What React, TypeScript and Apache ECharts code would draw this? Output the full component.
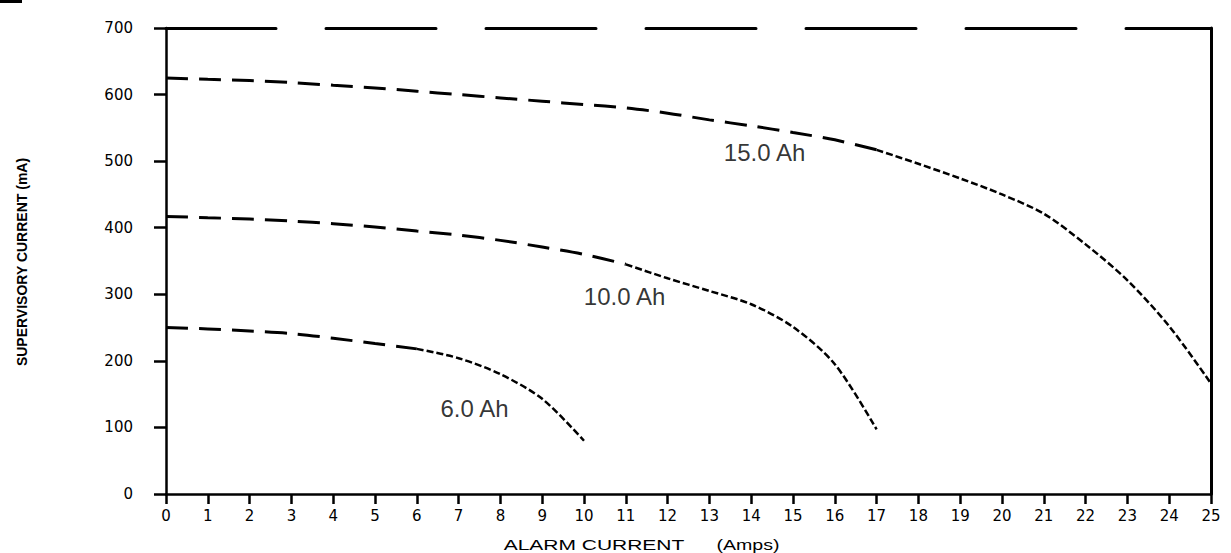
import React, { useEffect, useRef } from "react";
import * as echarts from "echarts";

// Alarm current (Amps) and maximum supervisory current (mA) for each battery capacity
const alarmCurrent6 = [0, 1, 2, 3, 4, 5, 6, 7, 8, 9, 10];
const supervisory6 = [250, 248, 245, 241, 234, 226, 218, 204, 180, 143, 80];

const alarmCurrent10 = [0, 1, 2, 3, 4, 5, 6, 7, 8, 9, 10, 11, 12, 13, 14, 15, 16, 17];
const supervisory10 = [417, 415, 413, 410, 406, 401, 395, 389, 381, 371, 360, 345, 324, 305, 285, 251, 195, 97];

const alarmCurrent15 = [0, 1, 2, 3, 4, 5, 6, 7, 8, 9, 10, 11, 12, 13, 14, 15, 16, 17, 18, 19, 20, 21, 22, 23, 24, 25];
const supervisory15 = [625, 623, 621, 618, 614, 610, 605, 600, 595, 590, 585, 580, 572, 562, 553, 543, 532, 517, 496, 474, 450, 421, 375, 321, 252, 166];

// alarm current where each scanned curve changes from long dashes to fine dashes
const dashBreak = [6, 11, 17];

const capacityNames = ["6.0 Ah", "10.0 Ah", "15.0 Ah"];
// label anchors in data units (alarm current, supervisory current)
const capacityLabelX = [7.38, 10.97, 14.32];
const capacityLabelY = [129, 296, 513];

const xTitle = "ALARM CURRENT";
const xUnit = "(Amps)";
const yTitle = "SUPERVISORY CURRENT (mA)";

const FONT = '"Liberation Sans", Arial, sans-serif';
const TICKFONT = '"DejaVu Sans", sans-serif';

function pairs(xs: number[], ys: number[]) {
  return xs.map((x, i) => [x, ys[i]]);
}

export default function App() {
  const ref = useRef<HTMLDivElement>(null);
  useEffect(() => {
    if (!ref.current) return;
    const chart = echarts.init(ref.current, null, { renderer: "svg" });
    const seg = (data: number[][], dash: number[], width: number) => ({
      type: "line",
      data,
      smooth: 0.3,
      symbol: "none",
      lineStyle: { color: "#000", width, type: dash },
      xAxisIndex: 0,
      yAxisIndex: 0,
      silent: true,
    });
    const curveSeries: any[] = [];
    [
      pairs(alarmCurrent6, supervisory6),
      pairs(alarmCurrent10, supervisory10),
      pairs(alarmCurrent15, supervisory15),
    ].forEach((pts, i) => {
      const b = dashBreak[i];
      curveSeries.push(seg(pts.filter((p) => p[0] <= b), [22, 11], 3));
      curveSeries.push(seg(pts.filter((p) => p[0] >= b), [7, 3], 2.5));
    });
    chart.setOption({
      animation: false,
      backgroundColor: "#fff",
      grid: { left: 166, right: 20, top: 28, bottom: 59, containLabel: false },
      xAxis: [
        {
          type: "value",
          min: 0,
          max: 25,
          interval: 1,
          position: "bottom",
          axisLine: { show: true, onZero: false, lineStyle: { color: "#000", width: 2.5 } },
          axisTick: { show: true, inside: false, length: 10, lineStyle: { color: "#000", width: 2.5 } },
          axisLabel: { color: "#000", fontSize: 15, fontFamily: TICKFONT, margin: 14 },
          splitLine: { show: false },
        },
        {
          type: "value",
          min: 0,
          max: 25,
          position: "top",
          axisLine: { show: true, onZero: false, lineStyle: { color: "#000", width: 3, type: [110, 50] } },
          axisTick: { show: false },
          axisLabel: { show: false },
          splitLine: { show: false },
        },
      ],
      yAxis: [
        {
          type: "value",
          min: 0,
          max: 700,
          interval: 100,
          position: "left",
          axisLine: { show: true, onZero: false, lineStyle: { color: "#000", width: 2.5 } },
          axisTick: { show: true, inside: false, length: 12, lineStyle: { color: "#000", width: 2.5 } },
          axisLabel: { color: "#000", fontSize: 15, fontFamily: TICKFONT, margin: 33 },
          splitLine: { show: false },
        },
        {
          type: "value",
          min: 0,
          max: 700,
          position: "right",
          axisLine: { show: true, onZero: false, lineStyle: { color: "#000", width: 3 } },
          axisTick: { show: false },
          axisLabel: { show: false },
          splitLine: { show: false },
        },
      ],
      series: [
        ...curveSeries,
        {
          type: "scatter",
          data: capacityNames.map((n, i) => [capacityLabelX[i], capacityLabelY[i], n]),
          symbolSize: 1,
          itemStyle: { color: "rgba(0,0,0,0)" },
          silent: true,
          label: {
            show: true,
            position: "inside",
            formatter: (p: any) => p.value[2],
            color: "#000",
            textBorderWidth: 0,
            fontSize: 24,
            fontFamily: FONT,
          },
        },
      ],
      graphic: [
        { type: "rect", shape: { x: 0, y: 0, width: 22, height: 3 }, style: { fill: "#000" } },
        {
          type: "text",
          x: 22,
          y: 262,
          rotation: Math.PI / 2,
          style: {
            text: yTitle,
            font: `bold 14px ${FONT}`,
            fill: "#000",
            align: "center",
            verticalAlign: "middle",
          },
        },
        {
          type: "text",
          x: 594,
          y: 545,
          scaleX: 1.5,
          style: { text: xTitle, font: `14px ${FONT}`, fill: "#000", align: "center", verticalAlign: "middle" },
        },
        {
          type: "text",
          x: 748,
          y: 545,
          scaleX: 1.4,
          style: { text: xUnit, font: `14px ${FONT}`, fill: "#000", align: "center", verticalAlign: "middle" },
        },
      ],
    });
    return () => chart.dispose();
  }, []);
  return (
    <div
      ref={ref}
      style={{ position: "fixed", left: 0, top: 0, width: 1231, height: 553, background: "#fff" }}
    />
  );
}
